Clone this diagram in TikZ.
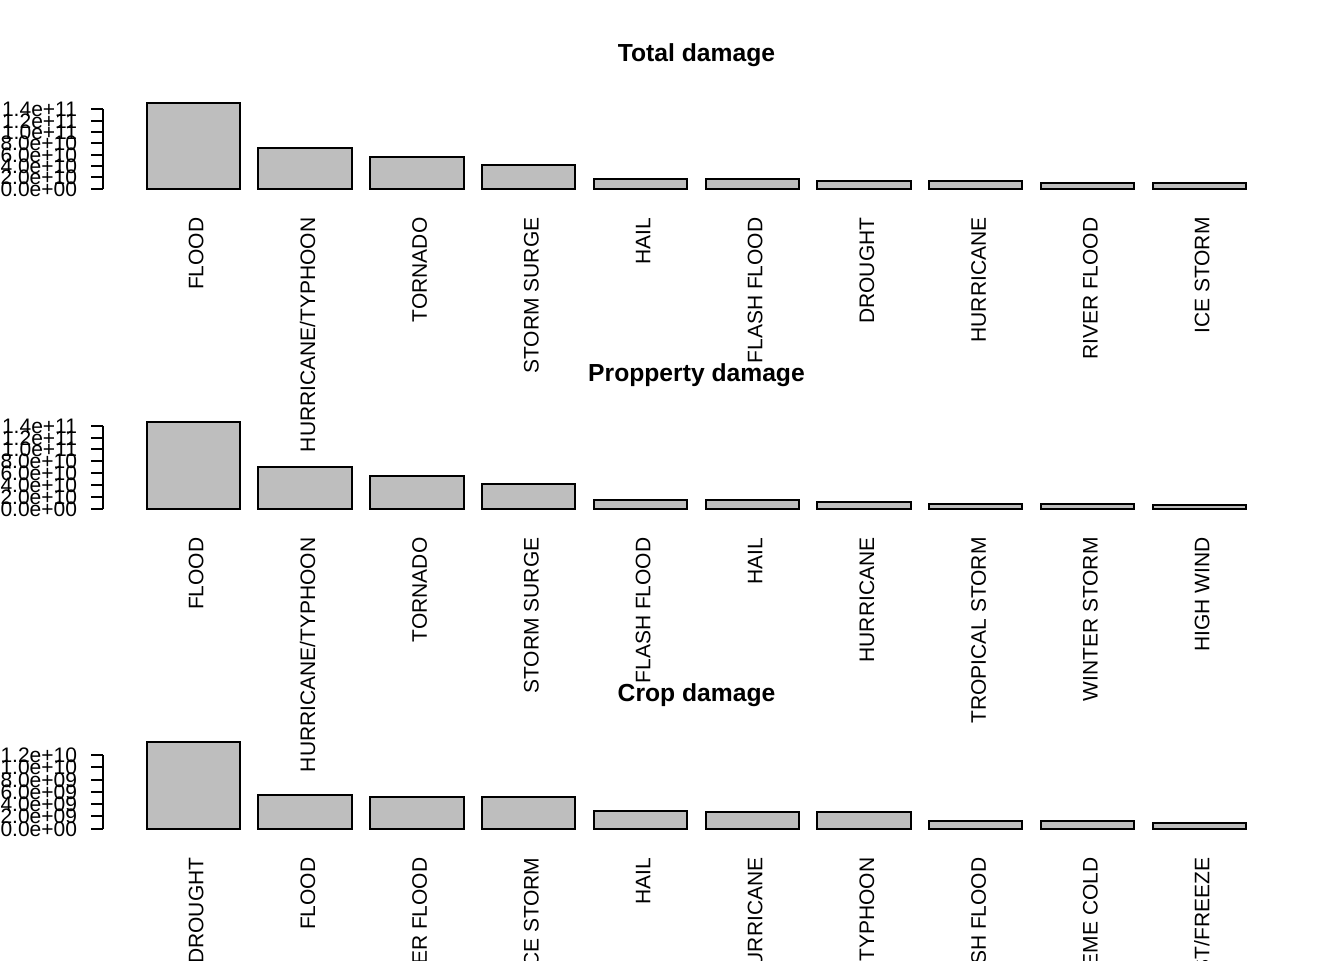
\documentclass[tikz,border=0pt]{standalone}
\usepackage{fontspec}
\setmainfont{Liberation Sans}
\definecolor{barfill}{RGB}{190,190,190}
\tikzset{
  barbox/.style={draw=black, fill=barfill, line width=1.5pt},
  axisline/.style={draw=black, line width=1.5pt},
  catlabel/.style={inner sep=0pt, outer sep=0pt, font=\fontsize{15.75}{18}\selectfont, anchor=base east, rotate=90},
  ticklabel/.style={inner sep=0pt, outer sep=0pt, font=\fontsize{15.75}{18}\selectfont, anchor=base east},
  paneltitle/.style={inner sep=0pt, outer sep=0pt, font=\fontsize{18.5}{22}\selectfont\bfseries, anchor=base}
}
\begin{document}
\begin{tikzpicture}[x=0.75pt, y=-0.75pt]
\useasboundingbox (0,0) rectangle (1344,960);
\fill[white] (0,0) rectangle (1344,960);
\clip (0,0) rectangle (1344,960);

% ---------- Panel 1: Total damage ----------
\node[paneltitle] (t1) at (696.5,61.7) {Total damage};
\draw[axisline] (103,109.3) -- (103,188.7);
\foreach \lab [count=\k from 0] in {0.0e+00,2.0e+10,4.0e+10,6.0e+10,8.0e+10,1.0e+11,1.2e+11,1.4e+11}{
  \pgfmathsetmacro\ty{188.7-\k*11.343}
  \draw[axisline] (91,\ty) -- (103,\ty);
  \node[ticklabel] (a1t\k) at (77,\ty+7.5) {\lab};
}
\foreach \h [count=\i] in {102.7,147.7,156.7,165,178.7,178.7,180.7,180.7,183.3,183.3}{
  \pgfmathsetmacro\xl{146.7+(\i-1)*111.78}
  \draw[barbox] (\xl,188.7) rectangle ({\xl+93.3},\h);
}
\foreach \lab [count=\i] in {FLOOD,HURRICANE/TYPHOON,TORNADO,STORM SURGE,HAIL,FLASH FLOOD,DROUGHT,HURRICANE,RIVER FLOOD,ICE STORM}{
  \pgfmathsetmacro\xc{146.7+(\i-1)*111.78+46.65+10}
  \node[catlabel] (p1l\i) at (\xc,217.5) {\lab};
}

% ---------- Panel 2: Propperty damage ----------
\node[paneltitle] (t2) at (696.5,381.7) {Propperty damage};
\draw[axisline] (103,425.7) -- (103,508.7);
\foreach \lab [count=\k from 0] in {0.0e+00,2.0e+10,4.0e+10,6.0e+10,8.0e+10,1.0e+11,1.2e+11,1.4e+11}{
  \pgfmathsetmacro\ty{508.7-\k*11.857}
  \draw[axisline] (91,\ty) -- (103,\ty);
  \node[ticklabel] (a2t\k) at (77,\ty+7.5) {\lab};
}
\foreach \h [count=\i] in {422.3,467.3,475.7,483.7,499.7,499.7,501.7,504.3,504.3,505.3}{
  \pgfmathsetmacro\xl{146.7+(\i-1)*111.78}
  \draw[barbox] (\xl,508.7) rectangle ({\xl+93.3},\h);
}
\foreach \lab [count=\i] in {FLOOD,HURRICANE/TYPHOON,TORNADO,STORM SURGE,FLASH FLOOD,HAIL,HURRICANE,TROPICAL STORM,WINTER STORM,HIGH WIND}{
  \pgfmathsetmacro\xc{146.7+(\i-1)*111.78+46.65+10}
  \node[catlabel] (p2l\i) at (\xc,537.5) {\lab};
}

% ---------- Panel 3: Crop damage ----------
\node[paneltitle] (t3) at (696.5,701.7) {Crop damage};
\draw[axisline] (103,755) -- (103,828.7);
\foreach \lab [count=\k from 0] in {0.0e+00,2.0e+09,4.0e+09,6.0e+09,8.0e+09,1.0e+10,1.2e+10}{
  \pgfmathsetmacro\ty{828.7-\k*12.283}
  \draw[axisline] (91,\ty) -- (103,\ty);
  \node[ticklabel] (a3t\k) at (77,\ty+7.5) {\lab};
}
\foreach \h [count=\i] in {742.3,794.7,797.3,797.3,810.7,812.3,812.3,820.7,820.7,822.7}{
  \pgfmathsetmacro\xl{146.7+(\i-1)*111.78}
  \draw[barbox] (\xl,828.7) rectangle ({\xl+93.3},\h);
}
\foreach \lab [count=\i] in {DROUGHT,FLOOD,RIVER FLOOD,ICE STORM,HAIL,HURRICANE,HURRICANE/TYPHOON,FLASH FLOOD,EXTREME COLD,FROST/FREEZE}{
  \pgfmathsetmacro\xc{146.7+(\i-1)*111.78+46.65+10}
  \node[catlabel] (p3l\i) at (\xc,857.5) {\lab};
}
\end{tikzpicture}
\end{document}
